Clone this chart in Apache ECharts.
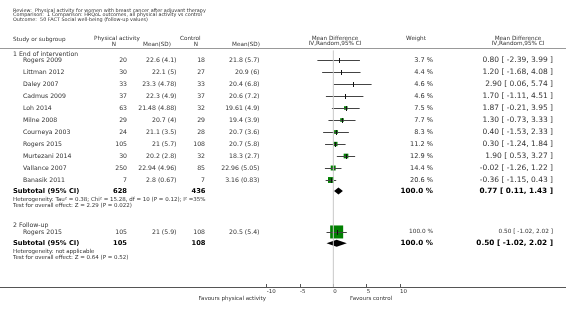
<!DOCTYPE html>
<html>
<head>
<meta charset="utf-8">
<script src="https://cdn.jsdelivr.net/npm/echarts@6/dist/echarts.min.js"></script>
<style>
    html, body { margin: 0; padding: 0; background: #fff; }
    #forest { width: 566px; height: 317px; }
</style>
</head>
<body>
<div id="forest"></div>
<script>
    // ---- data ----
    var studies = ['Rogers 2009', 'Littman 2012', 'Daley 2007', 'Cadmus 2009', 'Loh 2014', 'Milne 2008',
        'Courneya 2003', 'Rogers 2015', 'Murtezani 2014', 'Vallance 2007', 'Banasik 2011'];
    var paN = [20, 30, 33, 37, 63, 29, 24, 105, 30, 250, 7];
    var paMeanSD = ['22.6 (4.1)', '22.1 (5)', '23.3 (4.78)', '22.3 (4.9)', '21.48 (4.88)', '20.7 (4)',
        '21.1 (3.5)', '21 (5.7)', '20.2 (2.8)', '22.94 (4.96)', '2.8 (0.67)'];
    var ctlN = [18, 27, 33, 37, 32, 29, 28, 108, 32, 85, 7];
    var ctlMeanSD = ['21.8 (5.7)', '20.9 (6)', '20.4 (6.8)', '20.6 (7.2)', '19.61 (4.9)', '19.4 (3.9)',
        '20.7 (3.6)', '20.7 (5.8)', '18.3 (2.7)', '22.96 (5.05)', '3.16 (0.83)'];
    var weights = [3.7, 4.4, 4.6, 4.6, 7.5, 7.7, 8.3, 11.2, 12.9, 14.4, 20.6];
    var md = [0.80, 1.20, 2.90, 1.70, 1.87, 1.30, 0.40, 0.30, 1.90, -0.02, -0.36];
    var ciLow = [-2.39, -1.68, 0.06, -1.11, -0.21, -0.73, -1.53, -1.24, 0.53, -1.26, -1.15];
    var ciHigh = [3.99, 4.08, 5.74, 4.51, 3.95, 3.33, 2.33, 1.84, 3.27, 1.22, 0.43];

    // follow-up subgroup (one study)
    var fuStudy = 'Rogers 2015';
    var fuPaN = 105, fuPaMeanSD = '21 (5.9)', fuCtlN = 108, fuCtlMeanSD = '20.5 (5.4)';
    var fuWeight = 100.0, fuMd = 0.50, fuLow = -1.02, fuHigh = 2.02;

    // subtotals: [md, low, high]
    var subtotal1 = [0.77, 0.11, 1.43];
    var subtotal2 = [0.50, -1.02, 2.02];
    var subN1 = [628, 436], subN2 = [105, 108];

    var axisTicks = [-10, -5, 0, 5, 10];

    // ---- layout (row units: 12px each, counted from the header rule) ----
    var studyRows = studies.map(function (s, i) { return i + 1; });
    var rowGroup1 = 0.5, rowSub1 = 11.92, rowHet1 = 12.67, rowTest1 = 13.1;
    var rowGroup2 = 14.75, rowFu = 15.33, rowSub2 = 16.28, rowHet2 = 17.0, rowTest2 = 17.44;
    var yMax = 239 / 12;

    var FONT = 'DejaVu Sans';
    var INK = '#333';

    function fmt(v) { return v.toFixed(2); }
    function ciText(m, l, h) { return fmt(m) + ' [ ' + fmt(l) + ', ' + fmt(h) + ' ]'; }

    var chart = echarts.init(document.getElementById('forest'));

    var studyData = studies.map(function (s, i) {
        return [md[i], studyRows[i], ciLow[i], ciHigh[i], weights[i]];
    });
    studyData.push([fuMd, rowFu, fuLow, fuHigh, fuWeight]);

    chart.setOption({
        animation: false,
        grid: { left: 0, right: 0, top: 48, bottom: 30 },
        xAxis: {
            type: 'value',
            position: 'bottom',
            min: -50,
            max: 34.9,
            axisLine: { show: true, onZero: false, lineStyle: { color: '#555', width: 1 } },
            axisTick: { show: true, inside: true, length: 3, customValues: axisTicks, lineStyle: { color: '#555' } },
            axisLabel: {
                customValues: axisTicks,
                align: 'left',
                margin: 2,
                fontSize: 5.5,
                fontFamily: FONT,
                color: INK
            },
            splitLine: { show: false }
        },
        yAxis: { type: 'value', inverse: true, min: 0, max: yMax, show: false },
        series: [
            {
                name: 'zero',
                type: 'line',
                symbol: 'none',
                silent: true,
                lineStyle: { color: '#c8c8c8', width: 1 },
                data: [[0, 0.2], [0, yMax]]
            },
            {
                name: 'studies',
                type: 'custom',
                data: studyData,
                renderItem: function (params, api) {
                    var row = api.value(1);
                    var c = api.coord([api.value(0), row]);
                    var l = api.coord([api.value(2), row]);
                    var h = api.coord([api.value(3), row]);
                    var w = api.value(4);
                    var y = Math.round(c[1]) + 0.5;
                    var side = 13 * Math.sqrt(w / 100);
                    var kids = [];
                    if (w >= 5) {
                        kids.push({
                            type: 'rect',
                            shape: { x: c[0] - side / 2, y: c[1] - side / 2, width: side, height: side },
                            style: { fill: '#008000' }
                        });
                    }
                    kids.push({
                        type: 'line',
                        shape: { x1: l[0], y1: y, x2: h[0], y2: y },
                        style: { stroke: '#444', lineWidth: 1 }
                    });
                    kids.push({
                        type: 'line',
                        shape: { x1: Math.round(c[0]) + 0.5, y1: y - 2.5, x2: Math.round(c[0]) + 0.5, y2: y + 2.5 },
                        style: { stroke: '#111', lineWidth: 1 }
                    });
                    return { type: 'group', children: kids };
                }
            },
            {
                name: 'subtotals',
                type: 'custom',
                data: [
                    [subtotal1[0], rowSub1, subtotal1[1], subtotal1[2]],
                    [subtotal2[0], rowSub2, subtotal2[1], subtotal2[2]]
                ],
                renderItem: function (params, api) {
                    var row = api.value(1);
                    var c = api.coord([api.value(0), row]);
                    var l = api.coord([api.value(2), row]);
                    var h = api.coord([api.value(3), row]);
                    return {
                        type: 'polygon',
                        shape: { points: [[l[0], c[1]], [c[0], c[1] - 3.5], [h[0], c[1]], [c[0], c[1] + 3.5]] },
                        style: { fill: '#000' }
                    };
                }
            }
        ]
    });

    // ---- table text ----
    function rowY(k) { return chart.convertToPixel({ yAxisIndex: 0 }, k); }
    function txt(x, y, s, align, size, bold, color) {
        return {
            type: 'text',
            x: x,
            y: y,
            silent: true,
            style: {
                text: s,
                fontSize: size || 6.2,
                fontFamily: FONT,
                fontWeight: bold ? 'bold' : 'normal',
                fill: color || INK,
                align: align || 'left',
                verticalAlign: 'middle'
            }
        };
    }

    var g = [];
    // title block
    g.push(txt(13, 10.3, 'Review:  Physical activity for women with breast cancer after adjuvant therapy', 'left', 4.9));
    g.push(txt(13, 15, 'Comparison:  1 Comparison: HRQoL outcomes, all physical activity vs control', 'left', 4.9));
    g.push(txt(13, 19.7, 'Outcome:  50 FACT Social well-being (follow-up values)', 'left', 4.9));

    // column headers
    g.push(txt(13, 39.7, 'Study or subgroup', 'left', 5.7));
    g.push(txt(94, 38.7, 'Physical activity', 'left', 5.7));
    g.push(txt(114, 45, 'N', 'center', 5.7));
    g.push(txt(143, 45, 'Mean(SD)', 'left', 5.7));
    g.push(txt(180, 38.7, 'Control', 'left', 5.7));
    g.push(txt(196, 45, 'N', 'center', 5.7));
    g.push(txt(232, 45, 'Mean(SD)', 'left', 5.7));
    g.push(txt(335, 38.3, 'Mean Difference', 'center', 5.7));
    g.push(txt(335, 43.7, 'IV,Random,95% CI', 'center', 5.7));
    g.push(txt(416, 38.3, 'Weight', 'center', 5.7));
    g.push(txt(518, 38.3, 'Mean Difference', 'center', 5.7));
    g.push(txt(518, 43.7, 'IV,Random,95% CI', 'center', 5.7));
    g.push({ type: 'line', silent: true, shape: { x1: 0, y1: 48.5, x2: 566, y2: 48.5 }, style: { stroke: '#999', lineWidth: 1 } });

    var wSize = 6.6, ciSize = 7.5;

    // subgroup 1
    g.push(txt(13, rowY(rowGroup1), '1 End of intervention'));
    studies.forEach(function (s, i) {
        var y = rowY(studyRows[i]);
        g.push(txt(23, y, s));
        g.push(txt(127, y, String(paN[i]), 'right'));
        g.push(txt(176.5, y, paMeanSD[i], 'right'));
        g.push(txt(205, y, String(ctlN[i]), 'right'));
        g.push(txt(259.5, y, ctlMeanSD[i], 'right'));
        g.push(txt(433, y, weights[i].toFixed(1) + ' %', 'right', wSize));
        g.push(txt(553, y, ciText(md[i], ciLow[i], ciHigh[i]), 'right', ciSize));
    });
    var ys1 = rowY(rowSub1);
    g.push(txt(13, ys1, 'Subtotal (95% CI)', 'left', 6.7, true, '#000'));
    g.push(txt(127, ys1, String(subN1[0]), 'right', 6.7, true, '#000'));
    g.push(txt(205.5, ys1, String(subN1[1]), 'right', 6.7, true, '#000'));
    g.push(txt(433, ys1, '100.0 %', 'right', 7.2, true, '#000'));
    g.push(txt(553, ys1, ciText(subtotal1[0], subtotal1[1], subtotal1[2]), 'right', 7.3, true, '#000'));
    g.push(txt(13, rowY(rowHet1), 'Heterogeneity: Tau\u00b2 = 0.38; Chi\u00b2 = 15.28, df = 10 (P = 0.12); I\u00b2 =35%', 'left', 5.5));
    g.push(txt(13, rowY(rowTest1), 'Test for overall effect: Z = 2.29 (P = 0.022)', 'left', 5.5));

    // subgroup 2
    g.push(txt(13, rowY(rowGroup2), '2 Follow-up'));
    var yf = rowY(rowFu);
    g.push(txt(23, yf, fuStudy));
    g.push(txt(127, yf, String(fuPaN), 'right'));
    g.push(txt(176.5, yf, fuPaMeanSD, 'right'));
    g.push(txt(205, yf, String(fuCtlN), 'right'));
    g.push(txt(259.5, yf, fuCtlMeanSD, 'right'));
    g.push(txt(433, yf, fuWeight.toFixed(1) + ' %', 'right', 5.8));
    g.push(txt(553, yf, ciText(fuMd, fuLow, fuHigh), 'right', 5.8));
    var ys2 = rowY(rowSub2);
    g.push(txt(13, ys2, 'Subtotal (95% CI)', 'left', 6.7, true, '#000'));
    g.push(txt(127, ys2, String(subN2[0]), 'right', 6.7, true, '#000'));
    g.push(txt(205.5, ys2, String(subN2[1]), 'right', 6.7, true, '#000'));
    g.push(txt(433, ys2, '100.0 %', 'right', 7.2, true, '#000'));
    g.push(txt(553, ys2, ciText(subtotal2[0], subtotal2[1], subtotal2[2]), 'right', 7.3, true, '#000'));
    g.push(txt(13, rowY(rowHet2), 'Heterogeneity: not applicable', 'left', 5.5));
    g.push(txt(13, rowY(rowTest2), 'Test for overall effect: Z = 0.64 (P = 0.52)', 'left', 5.5));

    // footer under the axis
    g.push(txt(266, 298.3, 'Favours physical activity', 'right', 5.5));
    g.push(txt(350, 298.3, 'Favours control', 'left', 5.5));

    chart.setOption({ graphic: g });
</script>
</body>
</html>
